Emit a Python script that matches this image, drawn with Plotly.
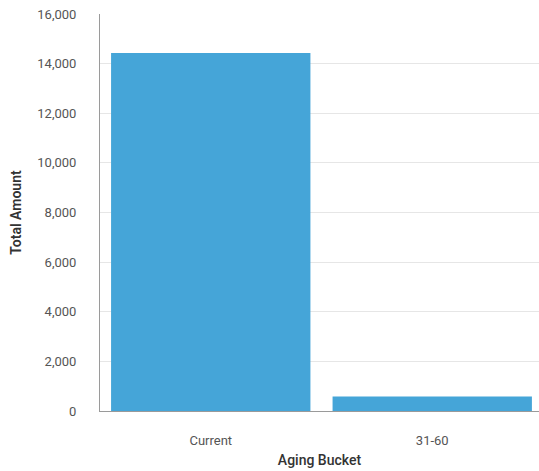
import plotly.graph_objects as go

categories = ["Current", "31-60"]
amounts = [14430, 580]
y_ticks = [0, 2000, 4000, 6000, 8000, 10000, 12000, 14000, 16000]

fig = go.Figure(
    go.Bar(
        x=categories,
        y=amounts,
        marker=dict(color="#45a5d8", line=dict(width=0)),
    )
)

fig.update_layout(
    width=539,
    height=471,
    margin=dict(l=100, r=0, t=14, b=60),
    paper_bgcolor="white",
    plot_bgcolor="white",
    bargap=0.1,
    showlegend=False,
    font=dict(family="Roboto", size=13, color="#555555"),
    xaxis=dict(
        range=[-0.5, 1.482],
        showline=True,
        linecolor="#9a9a9a",
        linewidth=1,
        showgrid=False,
        ticks="",
        ticklabelstandoff=17,
        tickfont=dict(size=13, color="#555555"),
        title=dict(text="Aging Bucket", font=dict(size=14, color="#333333", weight=500), standoff=8),
    ),
    yaxis=dict(
        range=[0, 16000],
        tickvals=y_ticks,
        tickformat=",d",
        showline=True,
        linecolor="#9a9a9a",
        linewidth=1,
        showgrid=True,
        gridcolor="#e6e6e6",
        gridwidth=1,
        zeroline=False,
        ticks="",
        ticklabelstandoff=20,
        tickfont=dict(size=13, color="#555555"),
        title=dict(text="Total Amount", font=dict(size=14, color="#333333", weight=600), standoff=12),
    ),
)

fig.write_html("out.html")
